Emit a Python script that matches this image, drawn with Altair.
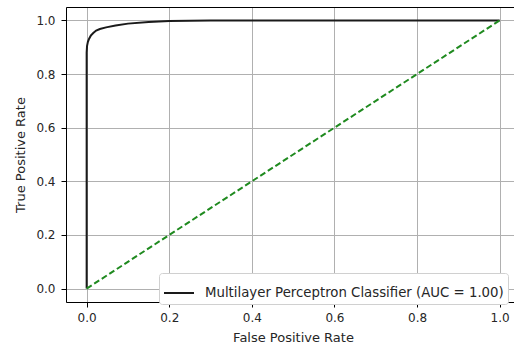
import altair as alt
import pandas as pd

fpr = [0.0, 0.0, 0.001, 0.003, 0.006, 0.010, 0.016, 0.023, 0.032, 0.047, 0.070, 0.100, 0.150, 0.200, 0.300, 0.500, 0.800, 1.0]
tpr = [0.0, 0.880, 0.905, 0.920, 0.932, 0.943, 0.953, 0.962, 0.968, 0.974, 0.981, 0.988, 0.994, 0.998, 0.9995, 1.0, 1.0, 1.0]
diag_x = [0.0, 1.0]
diag_y = [0.0, 1.0]
series_name = "Multilayer Perceptron Classifier (AUC = 1.00)"
ticks = [0.0, 0.2, 0.4, 0.6, 0.8, 1.0]

roc = pd.DataFrame({"fpr": fpr, "tpr": tpr, "series": series_name, "order": list(range(len(fpr)))})
diag = pd.DataFrame({"fpr": diag_x, "tpr": diag_y})

FONT = "DejaVu Sans"
TXT = "#262626"

xscale = alt.Scale(domain=[-0.05, 1.0347], nice=False, zero=False)
yscale = alt.Scale(domain=[-0.05, 1.05], nice=False, zero=False)

xaxis = alt.Axis(title="False Positive Rate", values=ticks, format=".1f", grid=True,
                 gridColor="#b0b0b0", gridWidth=1, domainColor="black", domainWidth=1,
                 tickColor="black", tickSize=5, tickWidth=1, labelPadding=5,
                 labelFontSize=12, titleFontSize=13, titlePadding=8, titleX=227,
                 labelColor=TXT, titleColor=TXT, titleFontWeight="normal")
yaxis = alt.Axis(title="True Positive Rate", values=ticks, format=".1f", grid=True,
                 gridColor="#b0b0b0", gridWidth=1, domainColor="black", domainWidth=1,
                 tickColor="black", tickSize=5, tickWidth=1, labelPadding=6,
                 labelFontSize=12, titleFontSize=13, titlePadding=8,
                 labelColor=TXT, titleColor=TXT, titleFontWeight="normal")

line = alt.Chart(roc).mark_line(strokeWidth=2).encode(
    x=alt.X("fpr:Q", scale=xscale, axis=xaxis),
    y=alt.Y("tpr:Q", scale=yscale, axis=yaxis),
    order="order:Q",
    color=alt.Color("series:N", scale=alt.Scale(domain=[series_name], range=["#1a1a1a"]),
                    legend=alt.Legend(title=None, orient="none", legendX=93, legendY=266,
                                      fillColor="white", strokeColor="#d0d0d0", cornerRadius=3,
                                      padding=4, symbolType="stroke", symbolSize=900,
                                      symbolStrokeWidth=2, labelFontSize=13.3, labelFont=FONT,
                                      labelColor=TXT, labelOffset=10, labelLimit=0)),
)

dashed = alt.Chart(diag).mark_line(strokeWidth=2, strokeDash=[6, 3], color="#1f8a1f").encode(
    x=alt.X("fpr:Q", scale=xscale,
            axis=alt.Axis(orient="top", title=None, labels=False, ticks=False, grid=False,
                          domainColor="black", domainWidth=1)),
    y=alt.Y("tpr:Q", scale=yscale, axis=yaxis),
)

chart = alt.layer(line, dashed).resolve_axis(x="independent").properties(
    width=448, height=295,
    autosize=alt.AutoSizeParams(type="none"),
    padding={"left": 66, "top": 7, "right": 0, "bottom": 47},
).configure_view(stroke=None).configure(font=FONT, background="white")

chart.save("out.html", embed_options={"renderer": "svg", "actions": False})
